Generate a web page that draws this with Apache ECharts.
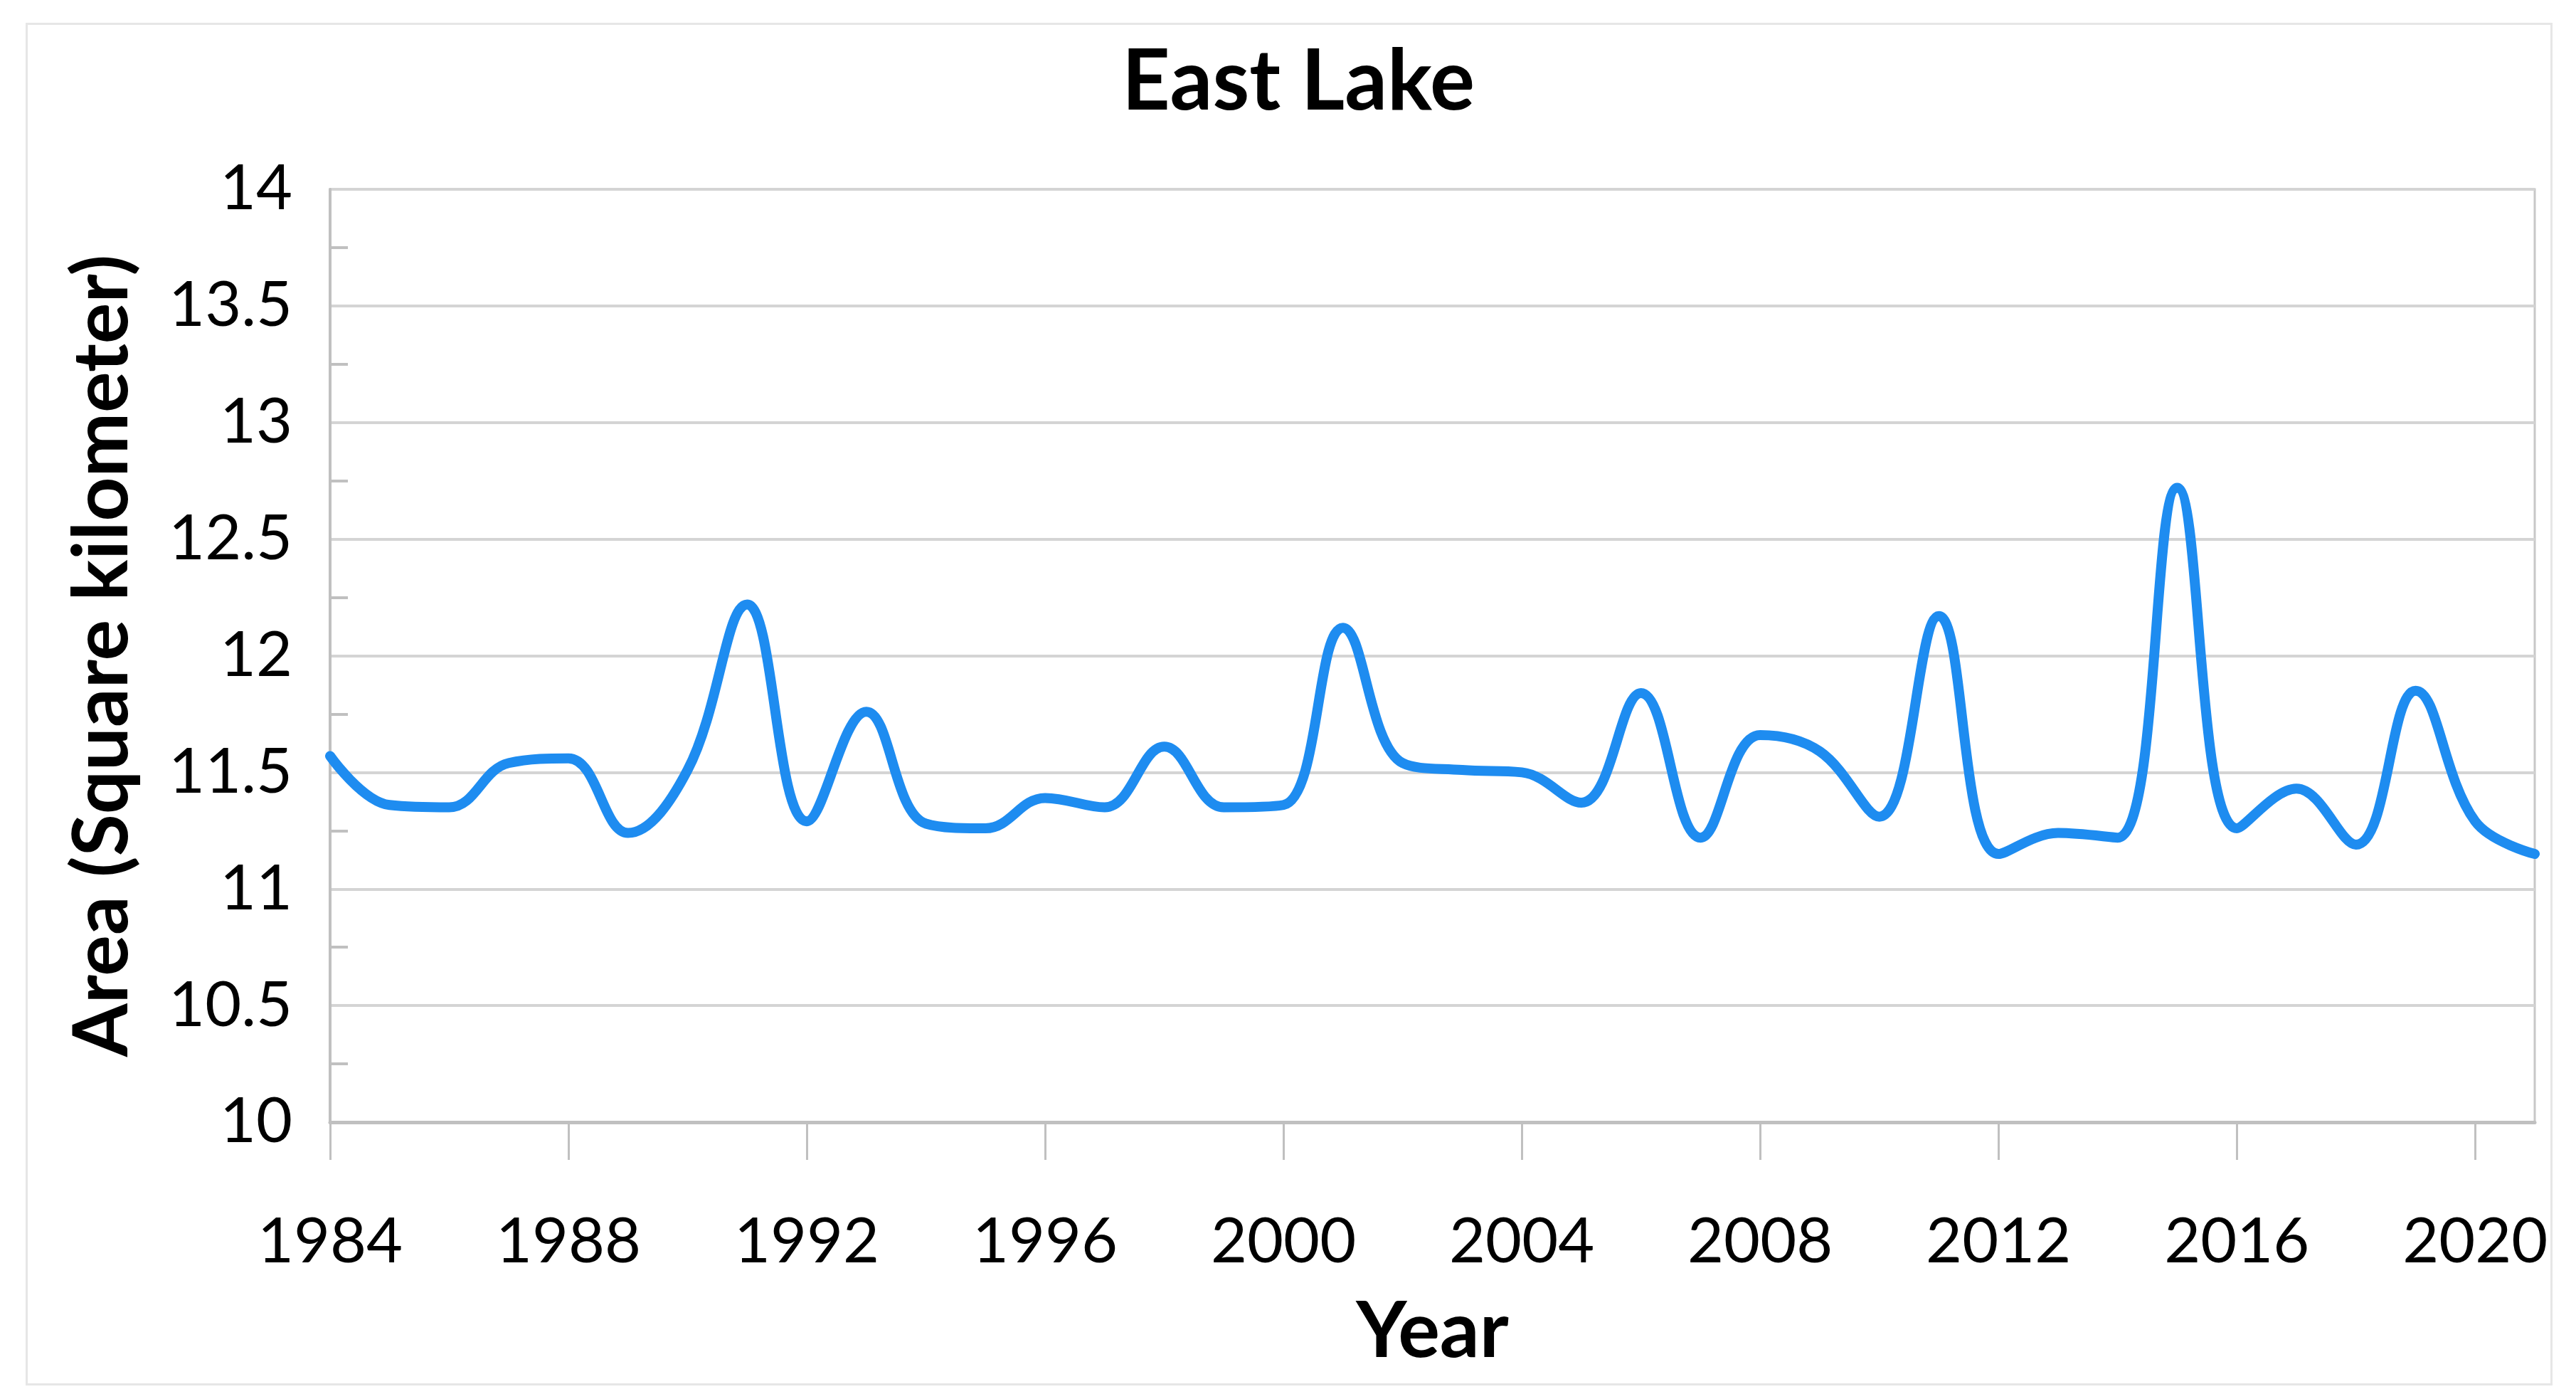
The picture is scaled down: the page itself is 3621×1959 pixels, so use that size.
<!DOCTYPE html>
<html>
<head>
<meta charset="utf-8">
<script src="https://cdn.jsdelivr.net/npm/echarts@6/dist/echarts.min.js"></script>
<style>
html,body{margin:0;padding:0;background:#fff;}
#chart{width:3621px;height:1959px;}
</style>
</head>
<body>
<div id="chart"></div>
<script>
const years = ['1984','1985','1986','1987','1988','1989','1990','1991','1992','1993','1994','1995','1996','1997','1998','1999','2000','2001','2002','2003','2004','2005','2006','2007','2008','2009','2010','2011','2012','2013','2014','2015','2016','2017','2018','2019','2020','2021'];
const area = [11.57,11.36,11.35,11.54,11.56,11.24,11.51,12.22,11.29,11.76,11.28,11.26,11.39,11.35,11.61,11.35,11.36,12.12,11.54,11.51,11.50,11.37,11.84,11.22,11.66,11.59,11.31,12.17,11.15,11.24,11.22,12.72,11.26,11.43,11.19,11.85,11.29,11.15];
const titleText = 'East Lake';
const xName = 'Year';
const yName = 'Area (Square kilometer)';

const FONT = 'Lato';
const chart = echarts.init(document.getElementById('chart'), null, {renderer:'canvas'});
chart.setOption({
  backgroundColor:'#ffffff',
  animation:false,
  title:{
    text:titleText, left:1820, textAlign:'center', top:52,
    textStyle:{fontFamily:FONT, fontWeight:'bold', fontSize:118, color:'#000'}
  },
  graphic:[{
    type:'rect', left:35, top:31, silent:true,
    shape:{width:3549, height:1912},
    style:{fill:'none', stroke:'#e6e6e6', lineWidth:3}
  }],
  grid:{left:464, right:58, top:266, bottom:382, show:true, borderColor:'#c8c8c8', borderWidth:3, backgroundColor:'transparent'},
  xAxis:{
    type:'category', data:years, boundaryGap:false,
    name:xName, nameLocation:'middle', nameGap:240,
    nameTextStyle:{fontFamily:FONT, fontWeight:'bold', fontSize:110, color:'#000'},
    axisLine:{lineStyle:{color:'#c0c0c0', width:5}},
    axisTick:{show:true, interval:3, length:53, lineStyle:{color:'#c0c0c0', width:3}},
    axisLabel:{interval:3, margin:125, fontFamily:FONT, fontSize:88, color:'#000'},
    splitLine:{show:false}
  },
  yAxis:{
    type:'value', min:10, max:14, interval:0.5,
    name:yName, nameLocation:'middle', nameGap:266, nameRotate:90,
    nameTextStyle:{fontFamily:FONT, fontWeight:'bold', fontSize:108, color:'#000'},
    axisLine:{show:true, lineStyle:{color:'#c0c0c0', width:4}},
    axisTick:{show:false, inside:true},
    minorTick:{show:true, splitNumber:2, length:25, lineStyle:{color:'#c0c0c0', width:4}},
    axisLabel:{margin:53, fontFamily:FONT, fontSize:88, color:'#000'},
    splitLine:{show:true, lineStyle:{color:'#d4d4d4', width:4}}
  },
  series:[{
    type:'line', data:area, smooth:0.4, showSymbol:false, symbol:'none',
    lineStyle:{color:'#1e8cf0', width:14, cap:'round', join:'round'}
  }]
});
</script>
</body>
</html>
